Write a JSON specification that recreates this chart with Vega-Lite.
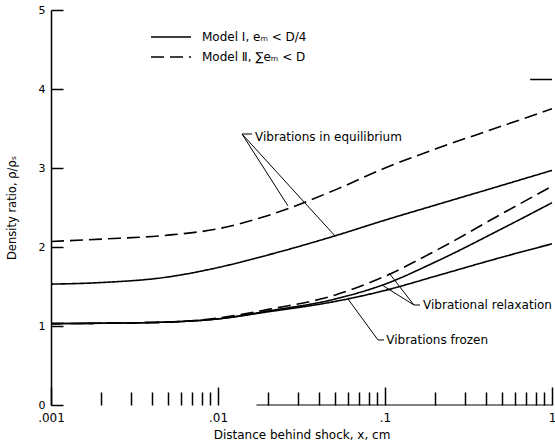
{
  "$schema": "https://vega.github.io/schema/vega-lite/v6.json",
  "width": 501,
  "height": 395,
  "autosize": {"type": "none"},
  "padding": {"left": 51, "top": 10, "right": 3, "bottom": 37},
  "background": "white",
  "config": {
    "view": {"stroke": null},
    "font": "DejaVu Sans",
    "axis": {"grid": false, "domainColor": "black", "tickColor": "black", "labelColor": "black", "titleColor": "black", "labelFont": "DejaVu Sans", "titleFont": "DejaVu Sans", "titleFontWeight": "normal"},
    "legend": {"labelFont": "DejaVu Sans"}
  },
  "datasets": {
    "curves": [
      {"curve": "eqII", "model": "Model  Ⅱ, ∑eₘ < D", "x": 0.001, "y": 2.07},
      {"curve": "eqII", "model": "Model  Ⅱ, ∑eₘ < D", "x": 0.002, "y": 2.10},
      {"curve": "eqII", "model": "Model  Ⅱ, ∑eₘ < D", "x": 0.005, "y": 2.15},
      {"curve": "eqII", "model": "Model  Ⅱ, ∑eₘ < D", "x": 0.01, "y": 2.23},
      {"curve": "eqII", "model": "Model  Ⅱ, ∑eₘ < D", "x": 0.02, "y": 2.40},
      {"curve": "eqII", "model": "Model  Ⅱ, ∑eₘ < D", "x": 0.05, "y": 2.72},
      {"curve": "eqII", "model": "Model  Ⅱ, ∑eₘ < D", "x": 0.1, "y": 3.00},
      {"curve": "eqII", "model": "Model  Ⅱ, ∑eₘ < D", "x": 0.2, "y": 3.24},
      {"curve": "eqII", "model": "Model  Ⅱ, ∑eₘ < D", "x": 0.5, "y": 3.53},
      {"curve": "eqII", "model": "Model  Ⅱ, ∑eₘ < D", "x": 1, "y": 3.75},
      {"curve": "eqI", "model": "Model  Ⅰ, eₘ < D/4", "x": 0.001, "y": 1.53},
      {"curve": "eqI", "model": "Model  Ⅰ, eₘ < D/4", "x": 0.002, "y": 1.55},
      {"curve": "eqI", "model": "Model  Ⅰ, eₘ < D/4", "x": 0.005, "y": 1.62},
      {"curve": "eqI", "model": "Model  Ⅰ, eₘ < D/4", "x": 0.01, "y": 1.74},
      {"curve": "eqI", "model": "Model  Ⅰ, eₘ < D/4", "x": 0.02, "y": 1.90},
      {"curve": "eqI", "model": "Model  Ⅰ, eₘ < D/4", "x": 0.05, "y": 2.14},
      {"curve": "eqI", "model": "Model  Ⅰ, eₘ < D/4", "x": 0.1, "y": 2.34},
      {"curve": "eqI", "model": "Model  Ⅰ, eₘ < D/4", "x": 0.2, "y": 2.53},
      {"curve": "eqI", "model": "Model  Ⅰ, eₘ < D/4", "x": 0.5, "y": 2.78},
      {"curve": "eqI", "model": "Model  Ⅰ, eₘ < D/4", "x": 1, "y": 2.97},
      {"curve": "frozen", "model": "Model  Ⅰ, eₘ < D/4", "x": 0.001, "y": 1.03},
      {"curve": "frozen", "model": "Model  Ⅰ, eₘ < D/4", "x": 0.002, "y": 1.035},
      {"curve": "frozen", "model": "Model  Ⅰ, eₘ < D/4", "x": 0.005, "y": 1.05},
      {"curve": "frozen", "model": "Model  Ⅰ, eₘ < D/4", "x": 0.01, "y": 1.09},
      {"curve": "frozen", "model": "Model  Ⅰ, eₘ < D/4", "x": 0.02, "y": 1.18},
      {"curve": "frozen", "model": "Model  Ⅰ, eₘ < D/4", "x": 0.05, "y": 1.31},
      {"curve": "frozen", "model": "Model  Ⅰ, eₘ < D/4", "x": 0.1, "y": 1.45},
      {"curve": "frozen", "model": "Model  Ⅰ, eₘ < D/4", "x": 0.2, "y": 1.63},
      {"curve": "frozen", "model": "Model  Ⅰ, eₘ < D/4", "x": 0.5, "y": 1.87},
      {"curve": "frozen", "model": "Model  Ⅰ, eₘ < D/4", "x": 1, "y": 2.04},
      {"curve": "relI", "model": "Model  Ⅰ, eₘ < D/4", "x": 0.001, "y": 1.03},
      {"curve": "relI", "model": "Model  Ⅰ, eₘ < D/4", "x": 0.002, "y": 1.035},
      {"curve": "relI", "model": "Model  Ⅰ, eₘ < D/4", "x": 0.005, "y": 1.05},
      {"curve": "relI", "model": "Model  Ⅰ, eₘ < D/4", "x": 0.01, "y": 1.09},
      {"curve": "relI", "model": "Model  Ⅰ, eₘ < D/4", "x": 0.02, "y": 1.19},
      {"curve": "relI", "model": "Model  Ⅰ, eₘ < D/4", "x": 0.05, "y": 1.34},
      {"curve": "relI", "model": "Model  Ⅰ, eₘ < D/4", "x": 0.1, "y": 1.53},
      {"curve": "relI", "model": "Model  Ⅰ, eₘ < D/4", "x": 0.2, "y": 1.81},
      {"curve": "relI", "model": "Model  Ⅰ, eₘ < D/4", "x": 0.5, "y": 2.23},
      {"curve": "relI", "model": "Model  Ⅰ, eₘ < D/4", "x": 1, "y": 2.56},
      {"curve": "relII", "model": "Model  Ⅱ, ∑eₘ < D", "x": 0.001, "y": 1.03},
      {"curve": "relII", "model": "Model  Ⅱ, ∑eₘ < D", "x": 0.002, "y": 1.035},
      {"curve": "relII", "model": "Model  Ⅱ, ∑eₘ < D", "x": 0.005, "y": 1.05},
      {"curve": "relII", "model": "Model  Ⅱ, ∑eₘ < D", "x": 0.01, "y": 1.10},
      {"curve": "relII", "model": "Model  Ⅱ, ∑eₘ < D", "x": 0.02, "y": 1.21},
      {"curve": "relII", "model": "Model  Ⅱ, ∑eₘ < D", "x": 0.05, "y": 1.39},
      {"curve": "relII", "model": "Model  Ⅱ, ∑eₘ < D", "x": 0.1, "y": 1.63},
      {"curve": "relII", "model": "Model  Ⅱ, ∑eₘ < D", "x": 0.2, "y": 1.95},
      {"curve": "relII", "model": "Model  Ⅱ, ∑eₘ < D", "x": 0.5, "y": 2.42},
      {"curve": "relII", "model": "Model  Ⅱ, ∑eₘ < D", "x": 1, "y": 2.77},
      {"curve": "asym", "model": "Model  Ⅰ, eₘ < D/4", "x": 0.74, "y": 4.12},
      {"curve": "asym", "model": "Model  Ⅰ, eₘ < D/4", "x": 1, "y": 4.12}
    ],
    "leaders": [
      {"id": "eqA", "ord": 1, "x": 0.016, "y": 3.43},
      {"id": "eqA", "ord": 2, "x": 0.01393, "y": 3.43},
      {"id": "eqA", "ord": 3, "x": 0.02625, "y": 2.52},
      {"id": "eqB", "ord": 1, "x": 0.01393, "y": 3.43},
      {"id": "eqB", "ord": 2, "x": 0.0502, "y": 2.14},
      {"id": "relA", "ord": 1, "x": 0.162, "y": 1.266},
      {"id": "relA", "ord": 2, "x": 0.149, "y": 1.266},
      {"id": "relA", "ord": 3, "x": 0.1057, "y": 1.671},
      {"id": "relB", "ord": 1, "x": 0.149, "y": 1.266},
      {"id": "relB", "ord": 2, "x": 0.0959, "y": 1.519},
      {"id": "frz", "ord": 1, "x": 0.06, "y": 1.342},
      {"id": "frz", "ord": 2, "x": 0.0908, "y": 0.823},
      {"id": "frz", "ord": 3, "x": 0.0986, "y": 0.823}
    ],
    "notes": [
      {"label": "Vibrations in equilibrium", "x": 0.01667, "y": 3.39},
      {"label": "Vibrational relaxation", "x": 0.169, "y": 1.266},
      {"label": "Vibrations frozen", "x": 0.1018, "y": 0.823}
    ],
    "base": [
      {"x": 0.017, "x2": 1, "y": 0}
    ]
  },
  "resolve": {"axis": {"x": "independent"}},
  "layer": [
    {
      "data": {"name": "curves"},
      "mark": {"type": "line", "color": "black", "strokeWidth": 1.6, "interpolate": "monotone"},
      "encoding": {
        "x": {"field": "x", "type": "quantitative",
          "scale": {"type": "log", "domain": [0.001, 1], "nice": false},
          "axis": {"values": [0.001, 0.01, 0.1, 1], "tickSize": -18, "tickWidth": 1.5, "domain": false,
            "labelExpr": "datum.value == 1 ? '1' : replace(toString(datum.value), '0.', '.')",
            "labelFlush": false, "labelPadding": 25, "labelFontSize": 12,
            "title": "Distance behind shock, x, cm", "titleFontSize": 12, "titlePadding": 6}},
        "y": {"field": "y", "type": "quantitative",
          "scale": {"domain": [0, 5], "nice": false, "zero": true},
          "axis": {"values": [0, 1, 2, 3, 4, 5], "format": "d", "tickSize": -12, "tickWidth": 1.5, "domainWidth": 1.5,
            "labelPadding": 18, "labelFontSize": 11,
            "title": "Density ratio, ρ/ρₛ", "titleFontSize": 11.5, "titlePadding": 21}},
        "detail": {"field": "curve"},
        "strokeDash": {"field": "model", "type": "nominal",
          "scale": {"domain": ["Model  Ⅰ, eₘ < D/4", "Model  Ⅱ, ∑eₘ < D"], "range": [[1, 0], [13, 6]]},
          "legend": {"orient": "none", "legendX": 99, "legendY": 17, "title": null,
            "symbolType": "stroke", "symbolSize": 1600, "symbolStrokeWidth": 1.5, "symbolStrokeColor": "black",
            "labelFontSize": 12, "labelColor": "black", "labelOffset": 10, "rowPadding": 0, "clipHeight": 20}}
      }
    },
    {
      "data": {"name": "base"},
      "mark": {"type": "rule", "color": "black", "strokeWidth": 1.2},
      "encoding": {
        "x": {"field": "x", "type": "quantitative",
          "axis": {"values": [0.002, 0.003, 0.004, 0.005, 0.006, 0.007, 0.008, 0.009, 0.02, 0.03, 0.04, 0.05, 0.06, 0.07, 0.08, 0.09, 0.2, 0.3, 0.4, 0.5, 0.6, 0.7, 0.8, 0.9],
            "tickSize": -13, "tickWidth": 1.5, "labels": false, "domain": false, "title": null, "orient": "bottom"}},
        "x2": {"field": "x2"},
        "y": {"field": "y", "type": "quantitative"}
      }
    },
    {
      "data": {"name": "leaders"},
      "mark": {"type": "line", "color": "black", "strokeWidth": 1},
      "encoding": {
        "x": {"field": "x", "type": "quantitative", "axis": null},
        "y": {"field": "y", "type": "quantitative"},
        "detail": {"field": "id"},
        "order": {"field": "ord", "type": "quantitative"}
      }
    },
    {
      "data": {"name": "notes"},
      "mark": {"type": "text", "align": "left", "baseline": "middle", "fontSize": 12, "font": "DejaVu Sans", "color": "black"},
      "encoding": {
        "x": {"field": "x", "type": "quantitative", "axis": null},
        "y": {"field": "y", "type": "quantitative"},
        "text": {"field": "label"}
      }
    }
  ]
}
